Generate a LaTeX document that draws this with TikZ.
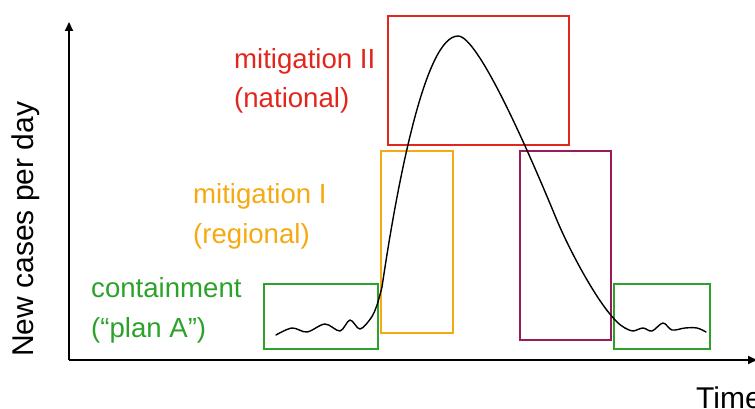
\documentclass[tikz,border=0pt]{standalone}
\usepackage{fontspec}
\setmainfont{Liberation Sans}
\usetikzlibrary{arrows.meta}
\definecolor{cred}{HTML}{E2261C}
\definecolor{corange}{HTML}{F5A912}
\definecolor{cgreen}{HTML}{2CA22A}
\definecolor{cpurple}{HTML}{9A1B5C}
\tikzset{
  box/.style={line width=2pt},
  lbl/.style={font=\fontsize{27.6}{32}\selectfont, inner sep=0pt, anchor=base west},
  axlbl/.style={font=\fontsize{30}{36}\selectfont, inner sep=0pt, anchor=base west},
  axis/.style={line width=2pt, -{Triangle[length=9pt,width=8pt]}},
  curve/.style={line width=1.4pt, line join=round, line cap=round}
}
\begin{document}
\begin{tikzpicture}[x=1pt,y=-1pt]
\useasboundingbox (0,0) rectangle (755,409);
% axes
\coordinate (o) at (69,360);
\coordinate (ytop) at (69,22);
\coordinate (xend) at (757,360);
\draw[axis] (o) -- (ytop);
\draw[axis] (o) -- (xend);
\node[axlbl, rotate=90] (ylab) at (33.5,357) {New cases per day};
\node[axlbl] (xlab) at (696,408) {Time};
% boxes
\draw[box, cred] (388,16) rectangle (569,145);
\draw[box, corange] (381,151) rectangle (453,333);
\draw[box, cpurple] (520,151) rectangle (611,340);
\draw[box, cgreen] (264,284) rectangle (378,349);
\draw[box, cgreen] (614,284) rectangle (710,349);
% curve
\coordinate (c0) at (382,287);
\coordinate (peak) at (458,36);
\coordinate (c1) at (556,218);
\coordinate (c2) at (625,328);
\draw[curve] plot[smooth, tension=0.55] coordinates {
 (276,335) (292,328) (307,332) (325,324) (340,331) (350,320) (360,329)
 (371,318) (377,305) (382,287)}
 .. controls (397,185) and (425,36) .. (peak)
 .. controls (478,36) and (528,150) .. (c1)
 .. controls (570,252) and (605,318) .. (c2);
\draw[curve] plot[smooth, tension=0.55] coordinates {
 (625,328) (633,331) (643,328) (652,331) (663,323) (672,330) (685,328)
 (697,328) (706,332)};
% labels
\node[lbl, text=cred] (m2a) at (234,69) {mitigation II};
\node[lbl, text=cred] (m2b) at (234,108) {(national)};
\node[lbl, text=corange] (m1a) at (193,204) {mitigation I};
\node[lbl, text=corange] (m1b) at (193,243) {(regional)};
\node[lbl, text=cgreen] (ca) at (91,297) {containment};
\node[lbl, text=cgreen] (cb) at (91,337) {(“plan A”)};
\end{tikzpicture}
\end{document}
